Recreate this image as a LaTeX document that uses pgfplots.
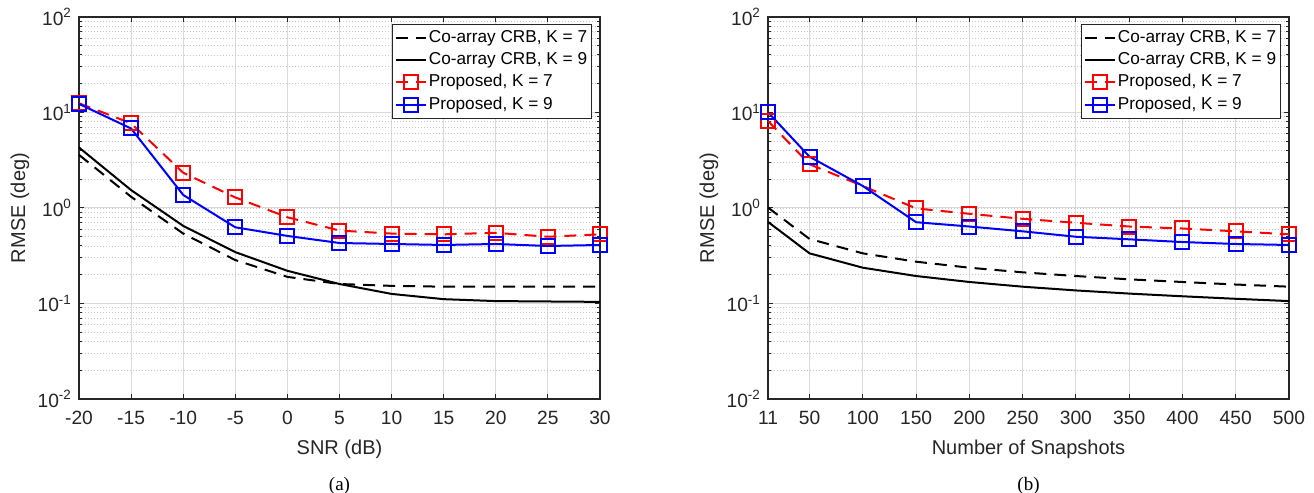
\documentclass[border=0pt]{standalone}
\usepackage{fontspec}
\setmainfont{Liberation Sans}
\newfontfamily\capfont{Liberation Serif}
\usepackage{pgfplots}
\usepackage{pgfplotstable}
\pgfplotsset{compat=1.18}

\pgfplotstableread{
x    crbA   crbB   propA  propB
-20  3.6    4.3    12.5   12.3
-15  1.31   1.54   7.7    6.8
-10  0.54   0.65   2.34   1.37
-5   0.285  0.345  1.29   0.628
0    0.19   0.22   0.80   0.51
5    0.16   0.16   0.58   0.43
10   0.153  0.126  0.54   0.42
15   0.150  0.111  0.53   0.41
20   0.150  0.106  0.55   0.42
25   0.150  0.105  0.50   0.40
30   0.150  0.104  0.53   0.41
}\snrdata

\pgfplotstableread{
x    crbA   crbB   propA  propB
11   1.01   0.715  8.15   10.05
50   0.474  0.335  2.87   3.44
100  0.335  0.237  1.70   1.70
150  0.274  0.194  0.99   0.71
200  0.237  0.168  0.87   0.64
250  0.212  0.150  0.77   0.57
300  0.194  0.137  0.70   0.50
350  0.179  0.127  0.64   0.47
400  0.168  0.119  0.61   0.44
450  0.158  0.112  0.57   0.42
500  0.150  0.106  0.53   0.41
}\snapdata

\pgfplotsset{
 every axis/.append style={
  scale only axis, width=260.5pt, height=191pt,
  clip=false,
  ymin=0.01, ymax=100,
  ytick={0.01,0.1,1,10,100},
  yticklabels={10\textsuperscript{-2},10\textsuperscript{-1},10\textsuperscript{0},10\textsuperscript{1},10\textsuperscript{2}},
  axis line style={black!85, line width=0.6pt},
  major tick length=2.5pt, minor tick length=1.5pt,
  every tick/.style={black!85, line width=0.5pt},
  xmajorgrids, ymajorgrids, yminorgrids,
  major grid style={black!15, line width=0.5pt},
  minor grid style={black!22, dash pattern=on 0.5pt off 1pt, line width=0.45pt},
  tick label style={font=\fontsize{9.6}{11}\selectfont, black!85},
  xticklabel style={yshift=-2.5pt},
  label style={font=\fontsize{10}{12}\selectfont, black!85},
  ylabel={RMSE (deg)},
  ylabel style={at={(axis description cs:-0.1132,0.5)}, anchor=center},
  xlabel style={at={(axis description cs:0.5,-0.1257)}, anchor=center, yshift=-1pt},
  legend style={at={(axis description cs:1,1)}, anchor=north east, xshift=-4pt, yshift=-3.5pt,
    font=\fontsize{8.6}{10}\selectfont, draw=black!85, line width=0.5pt, inner sep=1pt,
    row sep=0pt, nodes={inner sep=1.2pt, text height=6.6pt, text depth=2.2pt}},
  legend cell align=left,
 },
 legend image code/.code={\draw[mark repeat=2,mark phase=2,#1] plot coordinates {(0pt,0pt)(7.5pt,0pt)(15pt,0pt)};},
 crbA/.style={black, line width=1pt, dash pattern=on 6pt off 4pt, no marks},
 crbB/.style={black, line width=1pt, solid, no marks},
 propA/.style={red, line width=1pt, dash pattern=on 6pt off 4pt, mark=square, mark size=3.5pt, mark options={solid}},
 propB/.style={blue, line width=1pt, solid, mark=square, mark size=3.5pt, mark options={solid}},
}

\begin{document}
\begin{tikzpicture}
\path[use as bounding box] (0pt,0pt) rectangle (657pt,246.5pt);

\begin{semilogyaxis}[at={(39.5pt,47pt)}, anchor=south west,
  xmin=-20, xmax=30,
  xtick={-20,-15,-10,-5,0,5,10,15,20,25,30},
  xticklabels={-20,-15,-10,-5,0,5,10,15,20,25,30},
  xlabel={SNR (dB)}]
\addplot[crbA] table[x=x,y=crbA] {\snrdata};
\addlegendentry{Co-array CRB, K = 7}
\addplot[crbB] table[x=x,y=crbB] {\snrdata};
\addlegendentry{Co-array CRB, K = 9}
\addplot[propA] table[x=x,y=propA] {\snrdata};
\addlegendentry{Proposed, K = 7}
\addplot[propB] table[x=x,y=propB] {\snrdata};
\addlegendentry{Proposed, K = 9}
\node[font=\capfont\fontsize{9.5}{10}\selectfont, anchor=center] at (axis description cs:0.5,-0.2277) {(a)};
\end{semilogyaxis}

\begin{semilogyaxis}[at={(384pt,47pt)}, anchor=south west,
  xmin=11, xmax=500,
  xtick={11,50,100,150,200,250,300,350,400,450,500},
  xticklabels={11,50,100,150,200,250,300,350,400,450,500},
  xlabel={Number of Snapshots}]
\addplot[crbA] table[x=x,y=crbA] {\snapdata};
\addlegendentry{Co-array CRB, K = 7}
\addplot[crbB] table[x=x,y=crbB] {\snapdata};
\addlegendentry{Co-array CRB, K = 9}
\addplot[propA] table[x=x,y=propA] {\snapdata};
\addlegendentry{Proposed, K = 7}
\addplot[propB] table[x=x,y=propB] {\snapdata};
\addlegendentry{Proposed, K = 9}
\node[font=\capfont\fontsize{9.5}{10}\selectfont, anchor=center] at (axis description cs:0.5,-0.2277) {(b)};
\end{semilogyaxis}
\end{tikzpicture}
\end{document}
